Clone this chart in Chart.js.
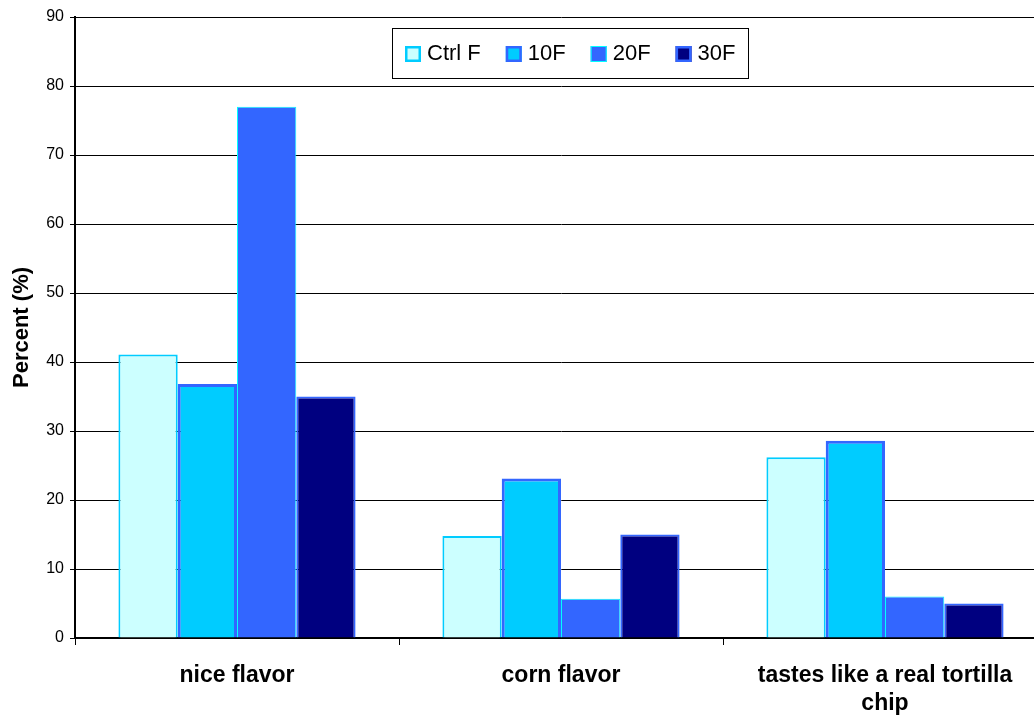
<!DOCTYPE html>
<html>
<head>
<meta charset="utf-8">
<script src="https://cdn.jsdelivr.net/npm/chart.js@4.4.1/dist/chart.umd.min.js"></script>
<style>
  html, body { margin: 0; padding: 0; background: #fff; overflow: hidden; width: 1034px; height: 717px; }
  #wrap { position: absolute; left: 0; top: 0; width: 1050px; height: 717px; }
  canvas { display: block; }
</style>
</head>
<body>
<div id="wrap"><canvas id="c" width="1050" height="717"></canvas></div>
<script>
const categories = [["nice flavor"], ["corn flavor"], ["tastes like a real tortilla", "chip"]];
const seriesNames = ["Ctrl F", "10F", "20F", "30F"];
const ctrlF = [41.1, 14.8, 26.2];
const f10 = [36.8, 23.1, 28.6];
const f20 = [77.0, 5.7, 6.0];
const f30 = [35.0, 15.0, 5.0];
const yTicks = [0, 10, 20, 30, 40, 50, 60, 70, 80, 90];

const fills = ["#CCFFFF", "#00CCFF", "#3366FF", "#000080"];
const borders = ["#00CCFF", "#3366FF", "#00FFFF", "#3366FF"];
const bw = [2, 3, 1, 2];
const legendBw = [2.5, 2.5, 1, 2.5];
const values = [ctrlF, f10, f20, f30];

const datasets = seriesNames.map((n, i) => ({
  label: n,
  data: values[i],
  backgroundColor: fills[i],
  borderColor: borders[i],
  borderWidth: bw[i],
  borderSkipped: 'start',
  categoryPercentage: 0.732,
  barPercentage: 1.0
}));

const legendBox = {
  id: 'legendBox',
  afterDatasetsDraw(chart) {
    const ctx = chart.ctx;
    const ca = chart.chartArea;
    ctx.save();
    ctx.font = '22px Arial, "Liberation Sans", sans-serif';
    const box = 16, gap = 6, itemGap = 25, padX = 13;
    const widths = seriesNames.map(n => ctx.measureText(n).width);
    let content = 0;
    widths.forEach((w, i) => { content += box + gap + w + (i < widths.length - 1 ? itemGap : 0); });
    const cx = (ca.left + ca.right) / 2 + 9;
    const left = Math.round(cx - content / 2 - padX);
    const width = Math.round(content + 2 * padX);
    const top = 28, height = 50;
    ctx.fillStyle = '#fff';
    ctx.fillRect(left, top, width, height);
    ctx.strokeStyle = '#000';
    ctx.lineWidth = 1;
    ctx.strokeRect(left + 0.5, top + 0.5, width, height);
    let x = left + padX;
    const cy = top + height / 2 + 1;
    ctx.textBaseline = 'middle';
    ctx.textAlign = 'left';
    seriesNames.forEach((n, i) => {
      const lw = legendBw[i];
      ctx.fillStyle = fills[i];
      ctx.fillRect(x, cy - box / 2, box, box);
      ctx.strokeStyle = borders[i];
      ctx.lineWidth = lw;
      ctx.strokeRect(x + lw / 2, cy - box / 2 + lw / 2, box - lw, box - lw);
      ctx.fillStyle = '#000';
      ctx.fillText(n, x + box + gap, cy);
      x += box + gap + widths[i] + itemGap;
    });
    ctx.restore();
  }
};

new Chart(document.getElementById('c'), {
  type: 'bar',
  data: { labels: categories, datasets },
  options: {
    responsive: false,
    animation: false,
    devicePixelRatio: 1,
    layout: { padding: { left: 0, top: 17, right: 3, bottom: 0 } },
    plugins: { legend: { display: false }, tooltip: { enabled: false } },
    scales: {
      x: {
        offset: true,
        grid: { display: true, offset: true, drawOnChartArea: false, drawTicks: true, tickLength: 7, color: '#000', lineWidth: 1 },
        border: { display: true, color: '#000', width: 2 },
        ticks: {
          color: '#000',
          padding: 17,
          maxRotation: 0,
          autoSkip: false,
          font: { family: 'Arial, "Liberation Sans", sans-serif', size: 23, weight: 'bold', lineHeight: 1.22 }
        },
        afterFit(s) { s.height = 79; }
      },
      y: {
        min: 0,
        max: 90,
        afterBuildTicks(s) { s.ticks = yTicks.map(v => ({ value: v })); },
        grid: { color: '#000', lineWidth: 1, drawTicks: true, tickLength: 5 },
        border: { display: true, color: '#000', width: 2 },
        ticks: {
          color: '#000',
          padding: 6,
          font: { family: 'Arial, "Liberation Sans", sans-serif', size: 16 }
        },
        title: {
          display: true,
          text: 'Percent (%)',
          color: '#000',
          padding: { top: 9, bottom: 0 },
          font: { family: 'Arial, "Liberation Sans", sans-serif', size: 22, weight: 'bold' }
        },
        afterFit(s) { s.width = 75; }
      }
    }
  },
  plugins: [legendBox]
});
</script>
</body>
</html>
